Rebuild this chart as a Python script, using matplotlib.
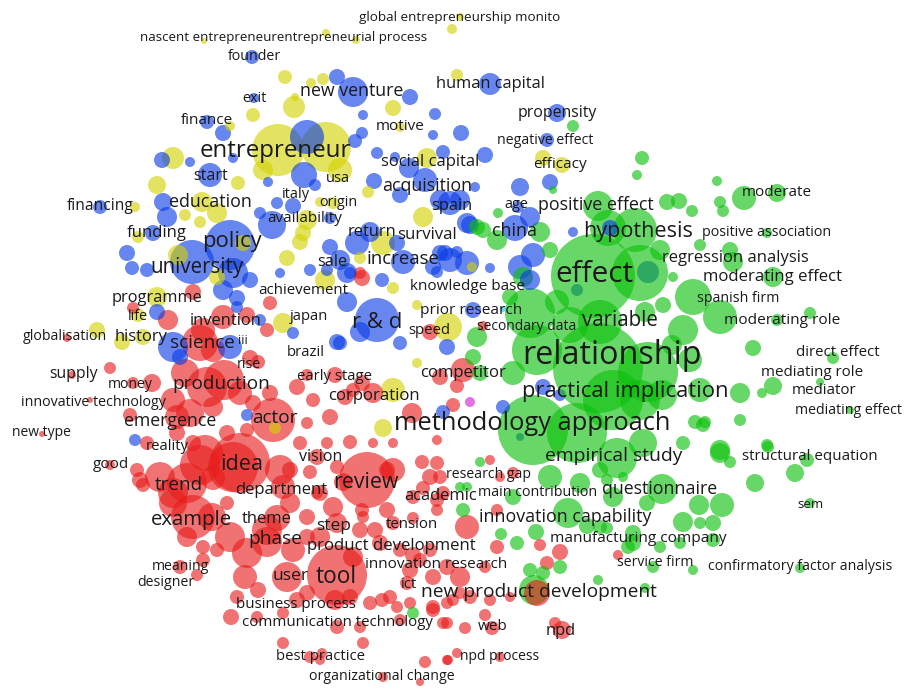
import matplotlib
matplotlib.use("Agg")
import matplotlib.pyplot as plt
from matplotlib.patches import Circle

# ---- keyword map data: map coordinates (x, y) and circle radius per cluster ----
red_nodes = [
    (193, 292, 8), (133, 308, 6), (168, 320, 10), (223, 317, 12), (203, 330, 12), (247, 315, 8), (267, 330, 7),
    (270, 303, 7), (67, 338, 4), (200, 343, 18), (213, 350, 12), (250, 358, 8), (258, 362, 7), (110, 368, 6),
    (72, 375, 4), (133, 383, 6), (152, 383, 9), (185, 373, 14), (207, 387, 20), (224, 380, 20), (240, 393, 12),
    (173, 400, 12), (190, 413, 14), (213, 407, 10), (270, 393, 8), (297, 387, 8), (273, 420, 22), (253, 403, 8),
    (313, 400, 7), (330, 417, 8), (307, 423, 6), (307, 375, 6), (335, 375, 8), (353, 390, 7), (362, 383, 8),
    (373, 393, 10), (345, 397, 8), (412, 413, 10), (440, 377, 8), (457, 386, 7), (463, 370, 12), (453, 405, 7),
    (130, 415, 7), (90, 400, 3), (42, 434, 3), (147, 443, 7), (177, 417, 12), (177, 433, 8), (193, 443, 8),
    (227, 433, 8), (247, 430, 7), (300, 443, 7), (327, 443, 6), (350, 442, 7), (373, 443, 5), (393, 443, 5),
    (437, 440, 5), (362, 278, 8), (483, 326, 5), (430, 332, 8),
    (240, 463, 30), (205, 453, 18), (233, 467, 25), (200, 465, 20), (213, 478, 12), (187, 483, 20), (160, 477, 15),
    (140, 480, 8), (110, 465, 5), (137, 470, 7), (143, 485, 7), (173, 493, 15), (280, 470, 15), (283, 487, 12),
    (290, 470, 8), (317, 457, 8), (310, 472, 7), (337, 467, 7), (317, 493, 6), (367, 480, 28), (393, 470, 12),
    (343, 482, 9), (320, 493, 8), (290, 503, 10), (307, 517, 8), (333, 507, 10), (362, 510, 7), (387, 510, 8),
    (413, 497, 7), (430, 477, 8), (437, 463, 7), (422, 462, 7), (387, 470, 8), (423, 488, 7), (437, 500, 7),
    (443, 493, 7), (193, 517, 22), (173, 503, 14), (212, 517, 14), (230, 537, 15), (187, 537, 10), (203, 547, 7),
    (227, 503, 7), (267, 530, 15), (277, 518, 13), (267, 542, 15), (247, 553, 15), (307, 537, 8), (337, 523, 10),
    (360, 530, 8), (320, 537, 10), (293, 550, 12), (217, 550, 7), (203, 560, 7), (180, 567, 7), (197, 575, 6),
    (245, 577, 12), (287, 577, 15), (337, 575, 30), (353, 557, 10), (380, 543, 8), (375, 530, 8), (393, 523, 7),
    (363, 517, 6), (413, 518, 6), (437, 510, 6), (400, 550, 7), (430, 550, 7), (410, 570, 8), (420, 560, 7),
    (447, 567, 8), (413, 555, 8), (407, 583, 7), (390, 597, 7), (370, 603, 7), (350, 597, 8), (335, 600, 10),
    (307, 593, 8), (297, 600, 8), (258, 590, 8), (237, 597, 7), (231, 617, 8), (257, 617, 6), (283, 613, 6),
    (337, 627, 7), (360, 627, 6), (397, 607, 6), (410, 603, 6), (433, 610, 7), (447, 623, 6), (363, 643, 6),
    (283, 643, 6), (310, 657, 6), (322, 653, 5), (425, 662, 6), (447, 660, 5), (383, 677, 5), (320, 660, 5),
    (420, 682, 4), (467, 527, 12), (497, 510, 6), (497, 547, 7), (540, 545, 6), (560, 552, 8), (547, 563, 7),
    (460, 577, 10), (433, 577, 8), (485, 567, 6), (470, 597, 7), (433, 607, 7), (453, 600, 6), (382, 600, 7),
    (400, 620, 6), (443, 623, 6), (465, 628, 6), (485, 615, 6), (492, 628, 7), (490, 600, 6), (460, 593, 6),
    (447, 603, 6), (510, 597, 5), (555, 623, 6), (562, 630, 9), (448, 660, 5), (457, 653, 5), (500, 657, 5),
    (490, 460, 5), (513, 473, 6), (500, 477, 5), (618, 555, 5), (537, 593, 13), (440, 477, 7), (360, 273, 6),
]

green_nodes = [
    (573, 126, 6), (642, 158, 7), (637, 175, 5), (553, 190, 4), (717, 181, 5), (744, 198, 12), (777, 193, 9),
    (720, 202, 6), (723, 211, 6), (692, 211, 6), (667, 202, 8), (679, 201, 8), (598, 206, 15), (498, 213, 5),
    (540, 232, 10), (483, 230, 8), (767, 233, 5), (497, 240, 10), (477, 227, 8), (608, 228, 18), (635, 230, 22),
    (660, 250, 10), (700, 245, 6), (730, 250, 8), (733, 262, 10), (550, 250, 8), (593, 276, 42), (640, 273, 28),
    (673, 277, 5), (693, 297, 18), (773, 277, 10), (720, 317, 17), (777, 320, 6), (810, 313, 6), (683, 330, 15),
    (753, 348, 8), (833, 358, 6), (773, 386, 9), (740, 393, 10), (762, 393, 5), (820, 382, 4), (740, 420, 6),
    (695, 422, 7), (705, 422, 6), (850, 410, 4), (767, 445, 6), (720, 450, 10), (645, 312, 10), (663, 305, 8),
    (523, 277, 10), (530, 313, 25), (557, 302, 12), (510, 297, 8), (600, 322, 22), (570, 325, 18),
    (598, 368, 45), (648, 372, 30), (537, 350, 25), (477, 337, 10), (473, 357, 8), (480, 373, 8), (513, 373, 12),
    (613, 400, 30), (533, 430, 35), (577, 433, 30), (643, 443, 14), (640, 400, 20), (662, 395, 15), (700, 390, 12),
    (690, 360, 12), (672, 345, 10), (617, 458, 20), (683, 443, 7), (703, 425, 7), (720, 453, 10), (730, 462, 6),
    (768, 447, 6), (795, 473, 9), (755, 483, 9), (810, 503, 5), (807, 460, 7), (550, 477, 12), (580, 483, 10),
    (600, 470, 8), (607, 480, 6), (623, 477, 5), (513, 497, 8), (568, 513, 15), (587, 526, 8), (536, 532, 8),
    (600, 527, 7), (613, 497, 10), (647, 503, 8), (662, 489, 15), (633, 543, 8), (653, 567, 6), (683, 522, 10),
    (699, 505, 10), (722, 505, 12), (680, 543, 6), (700, 523, 6), (713, 523, 8), (713, 540, 7), (660, 547, 6),
    (633, 533, 8), (607, 528, 6), (517, 543, 7), (501, 534, 6), (463, 510, 7), (460, 487, 5), (480, 462, 5),
    (467, 487, 5), (628, 547, 7), (560, 567, 7), (530, 570, 7), (543, 573, 7), (598, 580, 5), (800, 568, 5),
    (645, 588, 5), (413, 613, 6), (693, 570, 5), (534, 590, 15),
]

blue_nodes = [
    (252, 57, 7), (337, 77, 8), (353, 92, 15), (410, 97, 8), (254, 98, 5), (363, 115, 5), (435, 114, 6),
    (207, 122, 7), (223, 133, 8), (307, 137, 17), (362, 133, 6), (355, 141, 7), (433, 135, 5), (162, 160, 8),
    (190, 162, 5), (233, 158, 5), (304, 175, 13), (377, 153, 6), (395, 157, 5), (443, 152, 7), (409, 168, 10),
    (210, 175, 12), (268, 182, 5), (315, 185, 6), (374, 181, 8), (425, 180, 12), (400, 195, 8), (163, 202, 9),
    (100, 207, 7), (277, 203, 6), (293, 206, 8), (450, 203, 12), (167, 217, 10), (260, 213, 6), (272, 225, 14),
    (330, 218, 6), (370, 232, 10), (490, 84, 11), (557, 113, 9), (461, 133, 8), (547, 140, 7), (485, 155, 8),
    (520, 187, 9), (550, 182, 8), (475, 187, 5), (518, 207, 6), (470, 225, 9), (515, 228, 13), (573, 232, 5),
    (610, 228, 8), (530, 217, 10), (230, 245, 25), (192, 262, 22), (233, 273, 15), (250, 280, 8), (223, 290, 10),
    (237, 298, 8), (237, 307, 6), (157, 312, 8), (153, 233, 8), (127, 253, 8), (132, 268, 7), (147, 270, 7),
    (260, 320, 6), (173, 347, 15), (230, 347, 12), (180, 357, 8), (293, 333, 6), (337, 342, 8), (280, 273, 5),
    (310, 270, 6), (347, 273, 10), (347, 302, 10), (400, 343, 7), (247, 415, 6), (135, 440, 6), (357, 243, 12),
    (397, 243, 8), (330, 247, 8), (340, 260, 10), (350, 273, 6), (327, 270, 6), (403, 262, 12), (445, 253, 8),
    (457, 252, 6), (467, 263, 12), (450, 260, 12), (433, 267, 8), (437, 272, 6), (490, 268, 5), (520, 267, 12),
    (530, 280, 10), (533, 255, 12), (440, 253, 8), (382, 280, 7), (377, 320, 22), (360, 332, 10), (340, 343, 7),
    (473, 310, 8), (447, 347, 8), (543, 387, 8), (503, 407, 7), (443, 412, 7), (467, 223, 10), (440, 200, 10),
    (460, 200, 10),
]

# blue items lying underneath the large green circles
blue_under_nodes = [(648, 272, 11), (577, 290, 6), (520, 437, 4), (560, 395, 6)]

yellow_nodes = [
    (460, 17, 4), (452, 29, 5), (326, 33, 4), (356, 40, 4), (204, 41, 3), (285, 77, 7), (311, 83, 5),
    (323, 79, 6), (295, 97, 4), (294, 107, 11), (253, 115, 7), (393, 108, 8), (400, 127, 5), (230, 126, 5),
    (278, 150, 26), (326, 147, 25), (173, 158, 11), (340, 170, 12), (427, 158, 10), (238, 183, 7), (157, 185, 9),
    (263, 170, 10), (368, 192, 6), (135, 207, 5), (202, 202, 10), (217, 213, 10), (320, 202, 5), (333, 203, 6),
    (185, 215, 6), (307, 220, 10), (423, 217, 10), (200, 222, 6), (457, 75, 6), (543, 158, 8), (562, 165, 8),
    (138, 237, 6), (178, 255, 10), (217, 277, 8), (157, 297, 10), (138, 315, 7), (97, 330, 8), (122, 342, 8),
    (143, 337, 8), (283, 323, 10), (300, 242, 8), (287, 258, 8), (325, 280, 10), (417, 305, 5), (417, 363, 5),
    (383, 243, 12), (360, 258, 6), (393, 288, 6), (472, 267, 5), (448, 327, 14), (393, 390, 12), (383, 428, 9),
    (243, 243, 8), (303, 233, 8), (275, 428, 6),
]

purple_nodes = [(470, 402, 5)]
cyan_nodes = [(503, 309, 3)]

# ---- keyword labels: text, x, y, font size (pt) ----
keywords = [
    ("global entrepreneurship monito", 460, 17, 9.7), ("nascent entrepreneurentrepreneurial process", 284, 38, 9.6),
    ("founder", 254, 56, 10.3), ("new venture", 352, 91, 12.8), ("exit", 254, 99, 10.4),
    ("human capital", 490, 84, 11.8), ("propensity", 557, 113, 11.4), ("finance", 207, 121, 11),
    ("motive", 400, 127, 11), ("negative effect", 545, 140, 10.2), ("entrepreneur", 275, 151, 17.4),
    ("social capital", 430, 162, 12), ("efficacy", 560, 164, 11), ("start", 211, 176, 11.6),
    ("usa", 338, 178, 10.5), ("acquisition", 427, 186, 12.8), ("moderate", 777, 193, 11),
    ("italy", 296, 195, 10.5), ("origin", 338, 202, 10.3), ("financing", 100, 206, 11.2),
    ("education", 210, 202, 12.9), ("spain", 452, 206, 11.8), ("age", 516, 205, 10.4),
    ("positive effect", 596, 205, 12.9), ("availability", 305, 219, 11), ("hypothesis", 638, 232, 15.6),
    ("positive association", 767, 233, 10.3), ("funding", 157, 233, 12.1), ("return", 372, 232, 11.9),
    ("survival", 427, 235, 12.1), ("china", 514, 231, 12.9), ("policy", 232, 242, 15.8),
    ("effect", 594, 275, 21.4), ("regression analysis", 735, 258, 12), ("increase", 403, 259, 13.4),
    ("university", 197, 267, 14.8), ("sale", 332, 262, 11.7), ("moderating effect", 773, 277, 12.1),
    ("knowledge base", 467, 286, 11), ("achievement", 303, 290, 10.8), ("programme", 157, 298, 11.8),
    ("spanish firm", 738, 299, 10.2), ("prior research", 471, 310, 11.1), ("life", 138, 316, 10.4),
    ("japan", 309, 316, 10.6), ("r & d", 377, 323, 15.9), ("invention", 226, 321, 11.9),
    ("moderating role", 782, 320, 11.1), ("variable", 620, 321, 14.8), ("speed", 429, 330, 10.7),
    ("secondary data", 527, 327, 10), ("globalisation", 65, 337, 10.2), ("history", 141, 337, 11.9),
    ("science", 202, 343, 13.7), ("iii", 243, 341, 9), ("brazil", 306, 353, 10.7),
    ("relationship", 612, 355, 23.3), ("direct effect", 838, 352, 10.8), ("rise", 249, 365, 10.2),
    ("supply", 73, 374, 11.3), ("mediating role", 812, 372, 10.9), ("early stage", 334, 377, 10.7),
    ("competitor", 463, 373, 12.1), ("money", 130, 384, 10.1), ("production", 221, 384, 13.7),
    ("mediator", 824, 391, 10.9), ("practical implication", 625, 391, 15.8), ("innovative technology", 93, 402, 10.3),
    ("corporation", 374, 396, 12.1), ("mediating effect", 848, 411, 10.2), ("methodology approach", 532, 423, 18.4),
    ("actor", 275, 418, 13.7), ("emergence", 170, 421, 12.8), ("new type", 41, 433, 10),
    ("reality", 167, 446, 10.7), ("vision", 321, 457, 11.5), ("empirical study", 614, 456, 13.9),
    ("structural equation", 810, 457, 10.9), ("good", 111, 465, 11), ("idea", 242, 464, 15.6),
    ("review", 366, 482, 15.4), ("trend", 179, 485, 13.6), ("research gap", 488, 475, 10.1),
    ("department", 281, 490, 12), ("academic", 441, 496, 11.9), ("main contribution", 538, 493, 10.3),
    ("questionnaire", 660, 489, 12.8), ("sem", 810, 504, 9.5), ("example", 191, 520, 14.7),
    ("theme", 267, 519, 11.9), ("innovation capability", 565, 517, 12.9), ("step", 334, 526, 12.5),
    ("tension", 412, 524, 10.8), ("manufacturing company", 638, 538, 11.1), ("phase", 275, 539, 13.8),
    ("product development", 391, 546, 12.1), ("meaning", 180, 567, 10.1), ("service firm", 655, 563, 10.1),
    ("confirmatory factor analysis", 800, 567, 10.2), ("innovation research", 436, 565, 11), ("user", 291, 576, 12.6),
    ("tool", 336, 577, 16.3), ("designer", 166, 583, 10.2), ("ict", 409, 584, 10.6),
    ("new product development", 539, 592, 13.8), ("business process", 296, 604, 10.9),
    ("communication technology", 337, 623, 10.8), ("web", 493, 626, 11), ("npd", 561, 631, 11.8),
    ("best practice", 320, 656, 10.7), ("npd process", 500, 657, 10), ("organizational change", 382, 677, 10.2),
]

cluster_colors = {
    "red": "#e81c1c",
    "green": "#0ac00a",
    "blue": "#0a3ce6",
    "yellow": "#d2d200",
    "purple": "#d21ed2",
    "cyan": "#14c8dc",
}
clusters = [
    ("red", red_nodes), ("green", green_nodes), ("blue", blue_nodes),
    ("yellow", yellow_nodes), ("purple", purple_nodes), ("cyan", cyan_nodes),
]
ALPHA = 0.62

fig = plt.figure(figsize=(9.05, 6.88), dpi=100)
ax = fig.add_axes([0, 0, 1, 1])
ax.set_xlim(0, 905)
ax.set_ylim(688, 0)
ax.axis("off")

# items hidden beneath the big green circles go down first
for x, y, r in blue_under_nodes:
    ax.add_patch(Circle((x, y), r, facecolor=cluster_colors["blue"], edgecolor="none", alpha=ALPHA, zorder=0.5))

# larger circles first so that small ones stay visible on top
circles = []
for name, nodes in clusters:
    for x, y, r in nodes:
        circles.append((r, x, y, cluster_colors[name]))
circles.sort(key=lambda c: -c[0])
for z, (r, x, y, col) in enumerate(circles):
    ax.add_patch(Circle((x, y), r, facecolor=col, edgecolor="none", alpha=ALPHA, zorder=1 + z * 1e-4))

for text, x, y, size in keywords:
    ax.text(x, y, text, fontsize=size, family=["Open Sans", "DejaVu Sans"], color="#1a1a1a",
            ha="center", va="center", zorder=10)

fig.savefig("out.png", dpi=100, facecolor="white")
